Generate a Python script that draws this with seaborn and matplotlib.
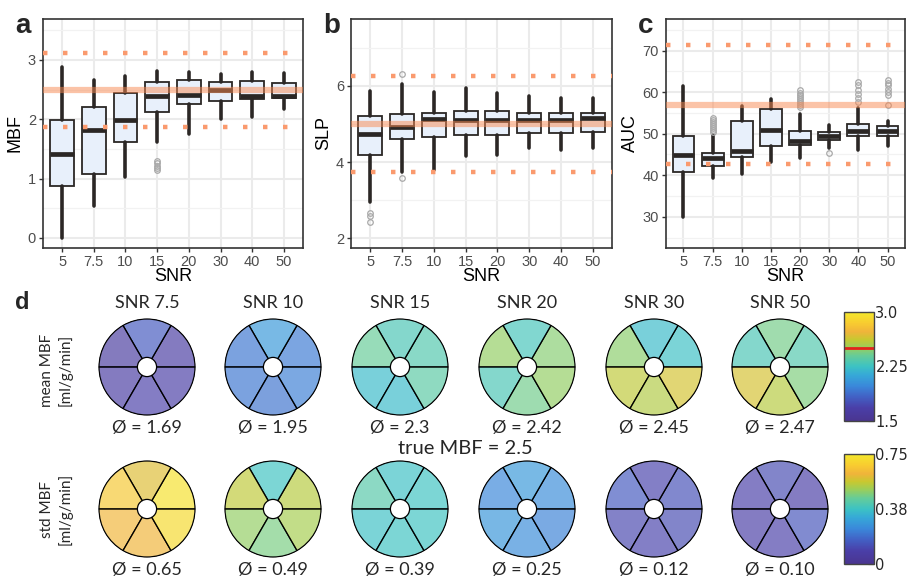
import numpy as np
import matplotlib
matplotlib.use("Agg")
import matplotlib.pyplot as plt
import seaborn as sns
from matplotlib.colors import LinearSegmentedColormap, Normalize
from matplotlib.ticker import MultipleLocator, FixedLocator
from matplotlib.cm import ScalarMappable

# ---------------- data ----------------
SNR_LABELS = ["5", "7.5", "10", "15", "20", "30", "40", "50"]

MBF_LO  = [0.00, 0.53, 1.03, 1.62, 1.76, 2.00, 2.04, 2.17]
MBF_Q1  = [0.88, 1.08, 1.62, 2.13, 2.26, 2.31, 2.34, 2.35]
MBF_MED = [1.41, 1.82, 1.99, 2.39, 2.41, 2.49, 2.40, 2.40]
MBF_Q3  = [1.99, 2.21, 2.45, 2.63, 2.66, 2.62, 2.65, 2.61]
MBF_HI  = [2.88, 2.66, 2.73, 2.81, 2.80, 2.76, 2.80, 2.78]
MBF_OUT = [[], [], [], [1.14, 1.18, 1.22, 1.26, 1.30], [], [], [], []]

SLP_LO  = [2.95, 3.73, 3.78, 4.15, 4.19, 4.38, 4.32, 4.37]
SLP_Q1  = [4.19, 4.61, 4.67, 4.72, 4.72, 4.76, 4.76, 4.78]
SLP_MED = [4.73, 4.91, 5.13, 5.10, 5.11, 5.11, 5.11, 5.15]
SLP_Q3  = [5.20, 5.26, 5.30, 5.35, 5.34, 5.30, 5.30, 5.30]
SLP_HI  = [5.88, 6.04, 5.83, 5.94, 5.81, 5.74, 5.69, 5.69]
SLP_OUT = [[2.42, 2.58, 2.66], [3.58, 6.31], [], [], [], [], [], []]

AUC_LO  = [30.0, 39.4, 40.3, 43.1, 44.1, 46.6, 46.2, 47.0]
AUC_Q1  = [40.9, 42.2, 44.4, 47.1, 47.4, 48.4, 49.4, 49.5]
AUC_MED = [44.8, 44.2, 45.8, 51.0, 48.2, 49.5, 50.6, 50.6]
AUC_Q3  = [49.4, 45.4, 53.1, 56.0, 50.6, 50.3, 52.4, 51.9]
AUC_HI  = [61.5, 49.8, 56.6, 58.3, 54.7, 52.2, 56.2, 53.0]
AUC_OUT = [[], [50.3, 50.8, 51.3, 51.8, 52.3, 52.8, 53.3, 53.8], [], [],
           [56.4, 56.9, 57.4, 57.9, 58.4, 58.9, 59.4, 59.9, 60.4], [45.4],
           [57.6, 58.6, 59.6, 60.6, 61.6, 62.4],
           [56.8, 59.2, 60.0, 60.8, 61.6, 62.3, 63.0]]

TRUE_MBF = 2.5
TRUE_SLP = 5.0
TRUE_AUC = 57.0

# bullseye panels: segments ordered UR, top, UL, LL, bottom, LR
WHEEL_SNR = ["7.5", "10", "15", "20", "30", "50"]
MEAN_SEG = [[1.64, 1.80, 1.62, 1.64, 1.68, 1.66],
            [1.93, 2.06, 1.92, 1.92, 1.90, 1.95],
            [2.33, 2.30, 2.40, 2.22, 2.22, 2.36],
            [2.47, 2.28, 2.50, 2.30, 2.42, 2.50],
            [2.24, 2.22, 2.48, 2.60, 2.57, 2.65],
            [2.33, 2.43, 2.30, 2.66, 2.58, 2.45]]
MEAN_AVG = ["1.69", "1.95", "2.3", "2.42", "2.45", "2.47"]
STD_SEG = [[0.73, 0.59, 0.66, 0.62, 0.615, 0.71],
           [0.54, 0.38, 0.55, 0.50, 0.47, 0.52],
           [0.38, 0.37, 0.42, 0.37, 0.38, 0.38],
           [0.25, 0.28, 0.24, 0.27, 0.25, 0.23],
           [0.13, 0.10, 0.15, 0.11, 0.10, 0.12],
           [0.08, 0.12, 0.09, 0.08, 0.09, 0.14]]
STD_AVG = ["0.65", "0.49", "0.39", "0.25", "0.12", "0.10"]
SEG_ANGLES = [30, 90, 150, 210, 270, 330]

# ---------------- style ----------------
sns.set_theme(style="whitegrid")
plt.rcParams["font.family"] = ["Liberation Sans", "DejaVu Sans"]
CAL = ["Lato", "DejaVu Sans"]

BOX_FILL = "#E8F0FB"
EDGE = "#2B2725"
DOT_ORANGE = "#FA9A6E"
REF_ORANGE = "#F98951"

PARULA_LIKE = LinearSegmentedColormap.from_list("parula_like", [
    (0.00, "#4a3590"), (0.12, "#4a3fa8"), (0.22, "#4260c4"),
    (0.32, "#3a88da"), (0.42, "#36a8d8"), (0.50, "#3cc2c4"),
    (0.60, "#66cc98"), (0.68, "#9cce58"), (0.75, "#c8c830"),
    (0.82, "#f0b43a"), (0.90, "#f8cc30"), (1.00, "#f4e82c")])

W, H = 909, 579
fig = plt.figure(figsize=(W / 100, H / 100), dpi=100)


def px_rect(l, t, r, b):
    return [l / W, 1 - b / H, (r - l) / W, (b - t) / H]


def box_panel(rect, lo, q1, med, q3, hi, out, true_val, ylim, major, minor,
              ylabel, letter):
    ax = fig.add_axes(px_rect(*rect))
    stats = [dict(whislo=a, q1=b, med=c, q3=d, whishi=e, fliers=f)
             for a, b, c, d, e, f in zip(lo, q1, med, q3, hi, out)]
    ax.bxp(stats, positions=np.arange(len(stats)), widths=0.75,
           patch_artist=True, showcaps=False,
           boxprops=dict(facecolor=BOX_FILL, edgecolor=EDGE, linewidth=1.3),
           whiskerprops=dict(color=EDGE, linewidth=2.6),
           medianprops=dict(color=EDGE, linewidth=3.4, solid_capstyle="butt"),
           flierprops=dict(marker="o", markerfacecolor="none",
                           markeredgecolor="#A9A9A9", markersize=4,
                           markeredgewidth=0.9))
    ax.axhline(true_val, color=REF_ORANGE, lw=4.5, alpha=0.5, zorder=5)
    for f in (1.25, 0.75):
        ax.axhline(true_val * f, color=DOT_ORANGE, lw=3.2,
                   linestyle=(0, (1, 3.5)), zorder=5)
    ax.set_xticks(np.arange(len(SNR_LABELS)))
    ax.set_xticklabels(SNR_LABELS)
    ax.set_xlim(-0.6, len(SNR_LABELS) - 0.4)
    ax.set_ylim(*ylim)
    ax.yaxis.set_major_locator(MultipleLocator(major))
    ax.yaxis.set_minor_locator(MultipleLocator(minor))
    ax.grid(True, which="major", color="#EBEBEB", lw=1.5)
    ax.grid(True, which="minor", axis="y", color="#F2F2F2", lw=0.9)
    ax.set_axisbelow(True)
    for s in ax.spines.values():
        s.set_visible(True)
        s.set_color("#333333")
        s.set_linewidth(1.2)
    ax.tick_params(which="major", length=3, width=1, color="#333333",
                   labelcolor="#4D4D4D", labelsize=10.5, pad=2,
                   bottom=True, left=True)
    ax.tick_params(which="minor", length=0)
    ax.set_xlabel("SNR", fontsize=13, labelpad=-1, color="black")
    ax.set_ylabel(ylabel, fontsize=13, labelpad=3, color="black")
    fig.text((rect[0] - 28) / W, 1 - 33 / H, letter, fontsize=20,
             fontweight="bold", ha="left", va="baseline")
    return ax


box_panel((43, 19, 303, 248), MBF_LO, MBF_Q1, MBF_MED, MBF_Q3, MBF_HI, MBF_OUT,
          TRUE_MBF, (-0.17, 3.69), 1, 0.5, "MBF", "a")
box_panel((351, 19, 612, 248), SLP_LO, SLP_Q1, SLP_MED, SLP_Q3, SLP_HI, SLP_OUT,
          TRUE_SLP, (1.74, 7.76), 2, 1, "SLP", "b")
box_panel((666, 19, 905, 248), AUC_LO, AUC_Q1, AUC_MED, AUC_Q3, AUC_HI, AUC_OUT,
          TRUE_AUC, (22.5, 77.6), 10, 5, "AUC", "c")

# ---------------- panel d: bullseyes ----------------
fig.text(15 / W, 1 - 309 / H, "d", fontsize=17, fontweight="bold",
         ha="left", va="baseline")

mean_norm = Normalize(1.5, 3.0)
std_norm = Normalize(0.0, 0.75)
centers_x = [147, 273, 400, 527, 654, 780]
rows = [(367, MEAN_SEG, MEAN_AVG, mean_norm), (509, STD_SEG, STD_AVG, std_norm)]
R = 48
theta = np.deg2rad(SEG_ANGLES)

for cy, segs, avgs, norm in rows:
    for cx, vals, avg in zip(centers_x, segs, avgs):
        pax = fig.add_axes(px_rect(cx - R - 1, cy - R - 1, cx + R + 1, cy + R + 1),
                           projection="polar")
        cols = [(*PARULA_LIKE(norm(v))[:3], 0.68) for v in vals]
        pax.bar(theta, 0.8, width=np.deg2rad(60), bottom=0.2, color=cols,
                edgecolor="black", linewidth=0.9)
        pax.set_ylim(0, 1.0 * (R + 1) / R)
        pax.set_axis_off()
        fig.text(cx / W, 1 - (cy + 61) / H, f"\u00d8 = {avg}", family=CAL,
                 fontsize=13, ha="center", va="center")

for cx, snr in zip(centers_x, WHEEL_SNR):
    fig.text(cx / W, 1 - 303 / H, f"SNR {snr}", family=CAL, fontsize=13,
             ha="center", va="center")

fig.text(465 / W, 1 - 448 / H, f"true MBF = {TRUE_MBF}", family=CAL,
         fontsize=14.5, ha="center", va="center")
fig.text(56 / W, 1 - 370 / H, "mean MBF\n[ml/g/min]", family=CAL, fontsize=11,
         rotation=90, ha="center", va="center", linespacing=1.3)
fig.text(56 / W, 1 - 509 / H, "std MBF\n[ml/g/min]", family=CAL, fontsize=11,
         rotation=90, ha="center", va="center", linespacing=1.3)

# colorbars
cb_specs = [((844, 312, 874, 421), mean_norm, [1.5, 2.25, 3.0],
             ["1.5", "2.25", "3.0"], 0.15, TRUE_MBF),
            ((844, 454, 874, 564), std_norm, [0.0, 0.375, 0.75],
             ["0", "0.38", "0.75"], 0.075, None)]
for rect, norm, ticks, labels, step, mark in cb_specs:
    cax = fig.add_axes(px_rect(*rect))
    cb = fig.colorbar(ScalarMappable(norm=norm, cmap=PARULA_LIKE), cax=cax)
    cb.outline.set_edgecolor("#444444")
    cb.outline.set_linewidth(1.0)
    cb.set_ticks(ticks)
    cb.set_ticklabels(labels)
    cax.yaxis.set_minor_locator(FixedLocator(
        np.arange(norm.vmin, norm.vmax + step / 2, step)))
    cax.tick_params(which="major", direction="in", length=4, width=0.8,
                    color="#444444", labelsize=10.5, pad=1)
    cax.tick_params(which="minor", direction="in", length=4, width=0.8,
                    color="#444444")
    for lab in cax.get_yticklabels():
        lab.set_family("DejaVu Sans")
    if mark is not None:
        cax.axhline(mark, color="#E3231B", lw=2)

fig.savefig("out.png", dpi=100)
